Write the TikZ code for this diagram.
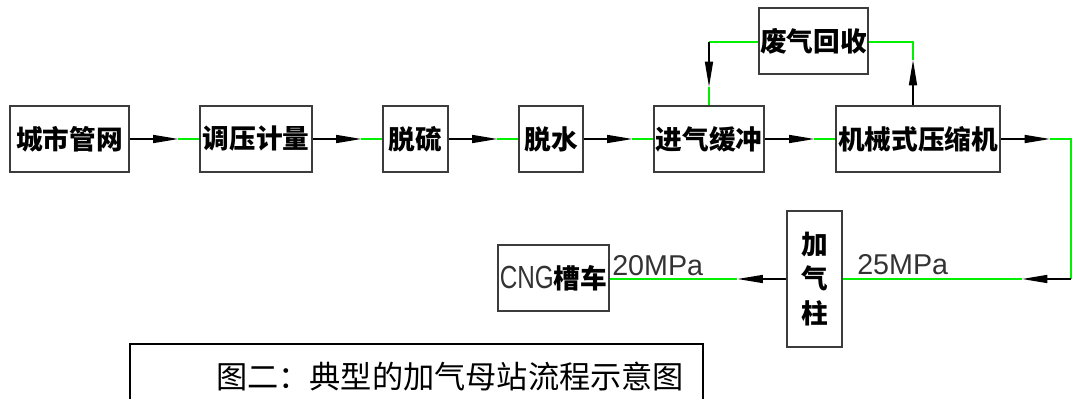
\documentclass[tikz,border=0pt]{standalone}
\usepackage{fontspec}
\usetikzlibrary{arrows.meta,calc}
\newfontfamily\cjk{Noto Sans CJK SC}
\newfontfamily\cad{Liberation Sans}
\definecolor{lgreen}{RGB}{0,240,0}
\definecolor{boxgray}{RGB}{60,60,60}
\tikzset{
  x=0.75pt, y=-0.75pt,
  box/.style={draw=boxgray, line width=0.8pt, inner sep=0pt, font=\cjk\bfseries\fontsize{20}{22}\selectfont},
  blk/.style={draw=black, line width=1.1pt},
  grn/.style={draw=lgreen, line width=1.1pt},
  arr/.style={blk, -{Triangle[length=19pt,width=6pt]}},
  lbl/.style={font=\cad\fontsize{21.5}{22}\selectfont, text=black!80, inner sep=0pt, anchor=south west},
}
\begin{document}
\begin{tikzpicture}
\useasboundingbox (0,0) rectangle (1072,399);
% top row
\node[box, minimum width=89.25pt, minimum height=49.5pt] (A) at (69.5,139) {城市管网};
\node[box, minimum width=84pt, minimum height=49.5pt] (B) at (256,139) {调压计量};
\node[box, minimum width=48.75pt, minimum height=49.5pt] (C) at (415.5,139) {脱硫};
\node[box, minimum width=48pt, minimum height=49.5pt] (D) at (551,139) {脱水};
\node[box, minimum width=82.5pt, minimum height=49.5pt] (E) at (709,139) {进气缓冲};
\node[box, minimum width=123pt, minimum height=49.5pt] (F) at (918,139) {机械式压缩机};
\node[box, minimum width=81.75pt, minimum height=49.5pt] (G) at (813.5,41) {废气回收};
% lower row
\node[box, minimum width=41.25pt, minimum height=102pt, align=center] (H) at (814.5,279) {加\\[4pt]气\\[4pt]柱};
\node[box, minimum width=83.25pt, minimum height=49.5pt] (I) at (553.5,278)
  {{\cad\mdseries\fontsize{24}{24}\selectfont\color{black!80}\scalebox{0.76}[1]{CNG}}槽车};
% title
\node[draw=black, line width=0.9pt, minimum width=429.75pt, minimum height=60pt, inner sep=0pt] (T) at (416.5,384) {};
\node[font=\cjk\fontsize{23.4}{25}\selectfont, inner sep=0pt] (Tt) at (450,377) {图二：典型的加气母站流程示意图};
% top row connectors
\foreach \a/\b in {A/B, B/C, C/D, D/E, E/F}{
  \draw[arr] (\a.east) -- ($(\b.west)+(-21,0)$);
  \draw[grn] ($(\b.west)+(-21,0)$) -- (\b.west);
}
% feedback loop
\coordinate (fr) at (913,42);
\coordinate (fl) at (709,42);
\draw[arr] (F.north -| fr) -- ($(fr)+(0,18)$);
\draw[grn] ($(fr)+(0,18)$) -- (fr) -- (G.east |- fr);
\draw[grn] (G.west |- fl) -- (fl);
\draw[arr] (fl) -- ($(fl)+(0,45)$);
\draw[grn] ($(fl)+(0,45)$) -- (E.north);
% compressor to dispenser
\coordinate (c1) at (1071,139);
\coordinate (c2) at (1071,279);
\draw[arr] (F.east) -- ($(c1)+(-21,0)$);
\draw[grn] ($(c1)+(-21,0)$) -- (c1) -- (c2);
\draw[arr] (c2) -- ($(c2)+(-49,0)$);
\draw[grn] ($(c2)+(-49,0)$) -- (H.east |- c2);
% dispenser to CNG trailer
\draw[arr] (H.west |- c2) -- ($(H.west |- c2)+(-49,0)$);
\draw[grn] ($(H.west |- c2)+(-49,0)$) -- (I.east |- c2);
% pressure labels
\node[lbl] (p20) at (612,276) {20MPa};
\node[lbl] (p25) at (857,275) {25MPa};
\end{tikzpicture}
\end{document}
